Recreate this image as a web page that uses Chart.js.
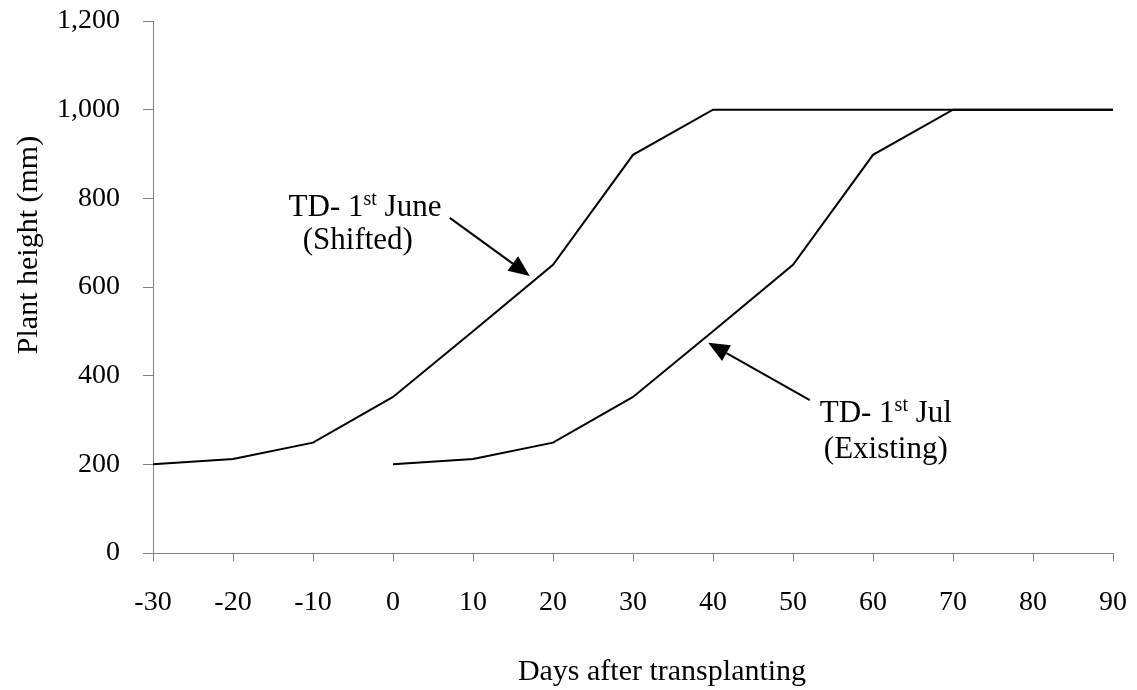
<!DOCTYPE html>
<html>
<head>
<meta charset="utf-8">
<script src="https://cdn.jsdelivr.net/npm/chart.js@4.4.0/dist/chart.umd.min.js"></script>
<style>
  html, body { margin: 0; padding: 0; background: #ffffff; }
  #wrap { width: 1137px; height: 690px; }
</style>
</head>
<body>
<div id="wrap"><canvas id="c" width="1137" height="690"></canvas></div>
<script>
// ---- data ----
const days = [-30, -20, -10, 0, 10, 20, 30, 40, 50, 60, 70, 80, 90];
const juneShifted = [200, 212, 249, 352, 500, 650, 898, 1000, 1000, 1000, 1000, 1000, 1000];
const julyExisting = [null, null, null, 200, 212, 249, 352, 500, 650, 898, 1000, 1000, 1000];
const xTicks = [-30, -20, -10, 0, 10, 20, 30, 40, 50, 60, 70, 80, 90];
const yTicks = [0, 200, 400, 600, 800, 1000, 1200];
const xTitle = 'Days after transplanting';
const yTitle = 'Plant height (mm)';

// annotation texts / arrows (in data coordinates)
const labelJune = { x: -3.5, x2: -4.4, y1: 760, y2: 686, pre: 'TD- 1', sup: 'st', post: ' June', line2: '(Shifted)' };
const labelJul = { x: 61.6, x2: 61.6, y1: 295, y2: 214, pre: 'TD- 1', sup: 'st', post: ' Jul', line2: '(Existing)' };
const arrowJune = { from: [7.1, 756], to: [17.1, 625] };
const arrowJul = { from: [52.1, 345], to: [39.4, 474] };

const FONT = '"Liberation Serif", "Times New Roman", serif';

function toPts(arr) { return days.map((d, i) => ({ x: d, y: arr[i] })); }

const annotPlugin = {
  id: 'annot',
  afterDraw(chart) {
    const ctx = chart.ctx;
    const xs = chart.scales.x, ys = chart.scales.y;
    ctx.save();
    ctx.fillStyle = '#000';
    ctx.strokeStyle = '#000';

    // axis titles
    ctx.font = '30px ' + FONT;
    ctx.textBaseline = 'alphabetic';
    ctx.textAlign = 'center';
    ctx.fillText(xTitle, 662, 680);
    ctx.save();
    ctx.translate(37, 245);
    ctx.rotate(-Math.PI / 2);
    ctx.textAlign = 'center';
    ctx.fillText(yTitle, 0, 0);
    ctx.restore();

    // labels
    function drawLabel(L) {
      const cx = xs.getPixelForValue(L.x);
      const cx2 = xs.getPixelForValue(L.x2);
      const b1 = ys.getPixelForValue(L.y1);
      const b2 = ys.getPixelForValue(L.y2);
      ctx.textBaseline = 'alphabetic';
      ctx.font = '31px ' + FONT;
      const wPre = ctx.measureText(L.pre).width;
      const wPost = ctx.measureText(L.post).width;
      ctx.font = '20px ' + FONT;
      const wSup = ctx.measureText(L.sup).width;
      const total = wPre + wSup + wPost;
      let x = cx - total / 2;
      ctx.textAlign = 'left';
      ctx.font = '31px ' + FONT;
      ctx.fillText(L.pre, x, b1);
      x += wPre;
      ctx.font = '20px ' + FONT;
      ctx.fillText(L.sup, x, b1 - 11);
      x += wSup;
      ctx.font = '31px ' + FONT;
      ctx.fillText(L.post, x, b1);
      ctx.textAlign = 'center';
      ctx.fillText(L.line2, cx2, b2);
    }
    drawLabel(labelJune);
    drawLabel(labelJul);

    function drawArrow(A) {
      const x1 = xs.getPixelForValue(A.from[0]), y1 = ys.getPixelForValue(A.from[1]);
      const x2 = xs.getPixelForValue(A.to[0]), y2 = ys.getPixelForValue(A.to[1]);
      const ang = Math.atan2(y2 - y1, x2 - x1);
      const len = 21, hw = 9;
      const bx = x2 - len * Math.cos(ang), by = y2 - len * Math.sin(ang);
      ctx.lineWidth = 2;
      ctx.beginPath();
      ctx.moveTo(x1, y1);
      ctx.lineTo(bx, by);
      ctx.stroke();
      ctx.beginPath();
      ctx.moveTo(x2, y2);
      ctx.lineTo(bx + hw * Math.sin(ang), by - hw * Math.cos(ang));
      ctx.lineTo(bx - hw * Math.sin(ang), by + hw * Math.cos(ang));
      ctx.closePath();
      ctx.fill();
    }
    drawArrow(arrowJune);
    drawArrow(arrowJul);
    ctx.restore();
  }
};

new Chart(document.getElementById('c'), {
  type: 'line',
  data: {
    datasets: [
      { label: 'TD- 1st June (Shifted)', data: toPts(juneShifted), borderColor: '#000', borderWidth: 2, pointRadius: 0, tension: 0, fill: false, spanGaps: false },
      { label: 'TD- 1st Jul (Existing)', data: toPts(julyExisting), borderColor: '#000', borderWidth: 2, pointRadius: 0, tension: 0, fill: false, spanGaps: false }
    ]
  },
  options: {
    responsive: false,
    animation: false,
    devicePixelRatio: 1,
    layout: { padding: { top: 21, right: 24, left: 0, bottom: 0 } },
    plugins: { legend: { display: false }, tooltip: { enabled: false } },
    scales: {
      x: {
        type: 'linear',
        min: -30, max: 90,
        afterFit(s) { s.height = 137; s.paddingLeft = 0; s.paddingRight = 0; },
        afterBuildTicks(s) { s.ticks = xTicks.map(v => ({ value: v })); },
        ticks: { color: '#000', font: { family: FONT, size: 28 }, padding: 25, maxRotation: 0 },
        grid: { drawOnChartArea: false, drawTicks: true, tickLength: 8, color: '#808080', lineWidth: 1 },
        border: { display: true, color: '#808080', width: 1 },
        title: { display: false, text: xTitle }
      },
      y: {
        type: 'linear',
        min: 0, max: 1200,
        afterFit(s) { s.width = 153; s.paddingTop = 0; s.paddingBottom = 0; },
        afterBuildTicks(s) { s.ticks = yTicks.map(v => ({ value: v })); },
        ticks: { color: '#000', font: { family: FONT, size: 28 }, padding: 23,
                 callback: v => v.toLocaleString('en-US') },
        grid: { drawOnChartArea: false, drawTicks: true, tickLength: 10, color: '#808080', lineWidth: 1 },
        border: { display: true, color: '#808080', width: 1 },
        title: { display: false, text: yTitle }
      }
    }
  },
  plugins: [annotPlugin]
});
</script>
</body>
</html>
